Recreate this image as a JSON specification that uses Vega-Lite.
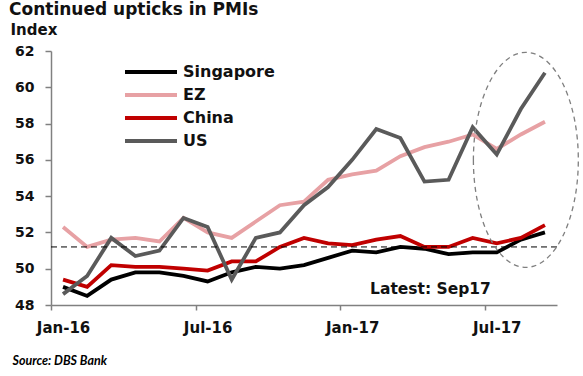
{
  "$schema": "https://vega.github.io/schema/vega-lite/v6.json",
  "width": 506,
  "height": 254,
  "autosize": "none",
  "padding": {"left": 51, "top": 51, "right": 26, "bottom": 71},
  "background": "white",
  "config": {
    "view": {"stroke": null},
    "font": "DejaVu Sans",
    "axis": {"labelOverlap": false, "labelSeparation": 0}
  },
  "title": {
    "text": "Continued upticks in PMIs",
    "anchor": "start",
    "frame": "group",
    "dx": -42,
    "dy": 16,
    "offset": 6,
    "baseline": "alphabetic",
    "font": "DejaVu Sans",
    "fontSize": 17,
    "fontWeight": "bold",
    "color": "#111111"
  },
  "datasets": {
    "pmi": [
      {"month": "Jan-16", "Singapore": 49.0, "EZ": 52.3, "China": 49.4, "US": 48.6},
      {"month": "Feb-16", "Singapore": 48.5, "EZ": 51.2, "China": 49.0, "US": 49.6},
      {"month": "Mar-16", "Singapore": 49.4, "EZ": 51.6, "China": 50.2, "US": 51.7},
      {"month": "Apr-16", "Singapore": 49.8, "EZ": 51.7, "China": 50.1, "US": 50.7},
      {"month": "May-16", "Singapore": 49.8, "EZ": 51.5, "China": 50.1, "US": 51.0},
      {"month": "Jun-16", "Singapore": 49.6, "EZ": 52.8, "China": 50.0, "US": 52.8},
      {"month": "Jul-16", "Singapore": 49.3, "EZ": 52.0, "China": 49.9, "US": 52.3},
      {"month": "Aug-16", "Singapore": 49.8, "EZ": 51.7, "China": 50.4, "US": 49.4},
      {"month": "Sep-16", "Singapore": 50.1, "EZ": 52.6, "China": 50.4, "US": 51.7},
      {"month": "Oct-16", "Singapore": 50.0, "EZ": 53.5, "China": 51.2, "US": 52.0},
      {"month": "Nov-16", "Singapore": 50.2, "EZ": 53.7, "China": 51.7, "US": 53.5},
      {"month": "Dec-16", "Singapore": 50.6, "EZ": 54.9, "China": 51.4, "US": 54.5},
      {"month": "Jan-17", "Singapore": 51.0, "EZ": 55.2, "China": 51.3, "US": 56.0},
      {"month": "Feb-17", "Singapore": 50.9, "EZ": 55.4, "China": 51.6, "US": 57.7},
      {"month": "Mar-17", "Singapore": 51.2, "EZ": 56.2, "China": 51.8, "US": 57.2},
      {"month": "Apr-17", "Singapore": 51.1, "EZ": 56.7, "China": 51.2, "US": 54.8},
      {"month": "May-17", "Singapore": 50.8, "EZ": 57.0, "China": 51.2, "US": 54.9},
      {"month": "Jun-17", "Singapore": 50.9, "EZ": 57.4, "China": 51.7, "US": 57.8},
      {"month": "Jul-17", "Singapore": 50.9, "EZ": 56.6, "China": 51.4, "US": 56.3},
      {"month": "Aug-17", "Singapore": 51.6, "EZ": 57.4, "China": 51.7, "US": 58.8},
      {"month": "Sep-17", "Singapore": 52.0, "EZ": 58.1, "China": 52.4, "US": 60.8}
    ],
    "reference": [{"value": 51.2}],
    "one": [{}]
  },
  "layer": [
    {
      "data": {"name": "pmi"},
      "transform": [{"fold": ["Singapore", "EZ", "China", "US"], "as": ["series", "value"]}],
      "mark": {"type": "line", "strokeWidth": 3.8, "strokeJoin": "miter"},
      "encoding": {
        "x": {
          "field": "month",
          "type": "ordinal",
          "sort": null,
          "scale": {"type": "point", "padding": 0.5},
          "axis": {
            "values": ["Jan-16", "Jul-16", "Jan-17", "Jul-17"],
            "labelAngle": 0,
            "tickOffset": -12.05,
            "labelOffset": 12.05,
            "tickSize": 5,
            "tickColor": "#808080",
            "tickWidth": 1.5,
            "domainColor": "#808080",
            "domainWidth": 1.5,
            "labelPadding": 10,
            "labelFont": "DejaVu Sans",
            "labelFontSize": 15,
            "labelFontWeight": "bold",
            "labelColor": "#111111",
            "title": "Source: DBS Bank",
            "titleFont": "Lato",
            "titleFontSize": 12.5,
            "titleFontWeight": "bold",
            "titleFontStyle": "italic",
            "titleColor": "#000000",
            "titleAnchor": "start",
            "titleAlign": "left",
            "titleBaseline": "alphabetic",
            "titleX": -39,
            "titleY": 59
          }
        },
        "y": {
          "field": "value",
          "type": "quantitative",
          "scale": {"domain": [48, 62], "nice": false, "zero": false},
          "axis": {
            "values": [48, 50, 52, 54, 56, 58, 60, 62],
            "labelOverlap": false,
            "grid": false,
            "tickSize": 6,
            "tickColor": "#808080",
            "tickWidth": 1.5,
            "domainColor": "#808080",
            "domainWidth": 1.5,
            "labelPadding": 11,
            "labelFont": "DejaVu Sans",
            "labelFontSize": 14,
            "labelFontWeight": "bold",
            "labelColor": "#111111",
            "title": "Index",
            "titleAngle": 0,
            "titleAlign": "left",
            "titleBaseline": "alphabetic",
            "titleX": -41,
            "titleY": -17,
            "titleFont": "DejaVu Sans",
            "titleFontSize": 15,
            "titleFontWeight": "bold",
            "titleColor": "#111111"
          }
        },
        "color": {
          "field": "series",
          "type": "nominal",
          "scale": {
            "domain": ["Singapore", "EZ", "China", "US"],
            "range": ["#000000", "#E7A1A4", "#C00000", "#5A5A5A"]
          },
          "legend": {
            "orient": "none",
            "legendX": 72,
            "legendY": 13,
            "title": null,
            "padding": 0,
            "symbolType": "stroke",
            "symbolSize": 2704,
            "symbolStrokeWidth": 4,
            "clipHeight": 16,
            "rowPadding": 7,
            "labelOffset": 4,
            "labelFont": "DejaVu Sans",
            "labelFontSize": 16,
            "labelFontWeight": "bold",
            "labelColor": "#111111"
          }
        }
      }
    },
    {
      "data": {"name": "reference"},
      "mark": {"type": "rule", "strokeDash": [6, 4], "color": "#000000", "strokeWidth": 1},
      "encoding": {
        "y": {
          "field": "value",
          "type": "quantitative",
          "scale": {"domain": [48, 62], "nice": false, "zero": false},
          "axis": {
            "values": [48, 50, 52, 54, 56, 58, 60, 62],
            "labelOverlap": false,
            "grid": false,
            "tickSize": 6,
            "tickColor": "#808080",
            "tickWidth": 1.5,
            "domainColor": "#808080",
            "domainWidth": 1.5,
            "labelPadding": 11,
            "labelFont": "DejaVu Sans",
            "labelFontSize": 14,
            "labelFontWeight": "bold",
            "labelColor": "#111111",
            "title": "Index",
            "titleAngle": 0,
            "titleAlign": "left",
            "titleBaseline": "alphabetic",
            "titleX": -41,
            "titleY": -17,
            "titleFont": "DejaVu Sans",
            "titleFontSize": 15,
            "titleFontWeight": "bold",
            "titleColor": "#111111"
          }
        }
      }
    },
    {
      "data": {"name": "one"},
      "mark": {
        "type": "point",
        "shape": "M-0.488,0A0.488,1,0,1,0,0.488,0A0.488,1,0,1,0,-0.488,0Z",
        "size": 46225,
        "filled": false,
        "stroke": "#7F7F7F",
        "strokeWidth": 1.3,
        "strokeDash": [5, 4],
        "opacity": 1
      },
      "encoding": {
        "x": {"datum": "Aug-17", "type": "ordinal"},
        "y": {
          "datum": 56,
          "type": "quantitative",
          "scale": {"domain": [48, 62], "nice": false, "zero": false},
          "axis": {
            "values": [48, 50, 52, 54, 56, 58, 60, 62],
            "labelOverlap": false,
            "grid": false,
            "tickSize": 6,
            "tickColor": "#808080",
            "tickWidth": 1.5,
            "domainColor": "#808080",
            "domainWidth": 1.5,
            "labelPadding": 11,
            "labelFont": "DejaVu Sans",
            "labelFontSize": 14,
            "labelFontWeight": "bold",
            "labelColor": "#111111",
            "title": "Index",
            "titleAngle": 0,
            "titleAlign": "left",
            "titleBaseline": "alphabetic",
            "titleX": -41,
            "titleY": -17,
            "titleFont": "DejaVu Sans",
            "titleFontSize": 15,
            "titleFontWeight": "bold",
            "titleColor": "#111111"
          }
        },
        "xOffset": {"value": 5}
      }
    },
    {
      "data": {"name": "one"},
      "mark": {
        "type": "text",
        "text": "Latest:  Sep17",
        "font": "DejaVu Sans",
        "fontSize": 15.5,
        "fontWeight": "bold",
        "color": "#111111",
        "align": "center",
        "baseline": "middle",
        "dx": 6
      },
      "encoding": {
        "x": {"datum": "Apr-17", "type": "ordinal"},
        "y": {
          "datum": 48.9,
          "type": "quantitative",
          "scale": {"domain": [48, 62], "nice": false, "zero": false},
          "axis": {
            "values": [48, 50, 52, 54, 56, 58, 60, 62],
            "labelOverlap": false,
            "grid": false,
            "tickSize": 6,
            "tickColor": "#808080",
            "tickWidth": 1.5,
            "domainColor": "#808080",
            "domainWidth": 1.5,
            "labelPadding": 11,
            "labelFont": "DejaVu Sans",
            "labelFontSize": 14,
            "labelFontWeight": "bold",
            "labelColor": "#111111",
            "title": "Index",
            "titleAngle": 0,
            "titleAlign": "left",
            "titleBaseline": "alphabetic",
            "titleX": -41,
            "titleY": -17,
            "titleFont": "DejaVu Sans",
            "titleFontSize": 15,
            "titleFontWeight": "bold",
            "titleColor": "#111111"
          }
        }
      }
    }
  ]
}
